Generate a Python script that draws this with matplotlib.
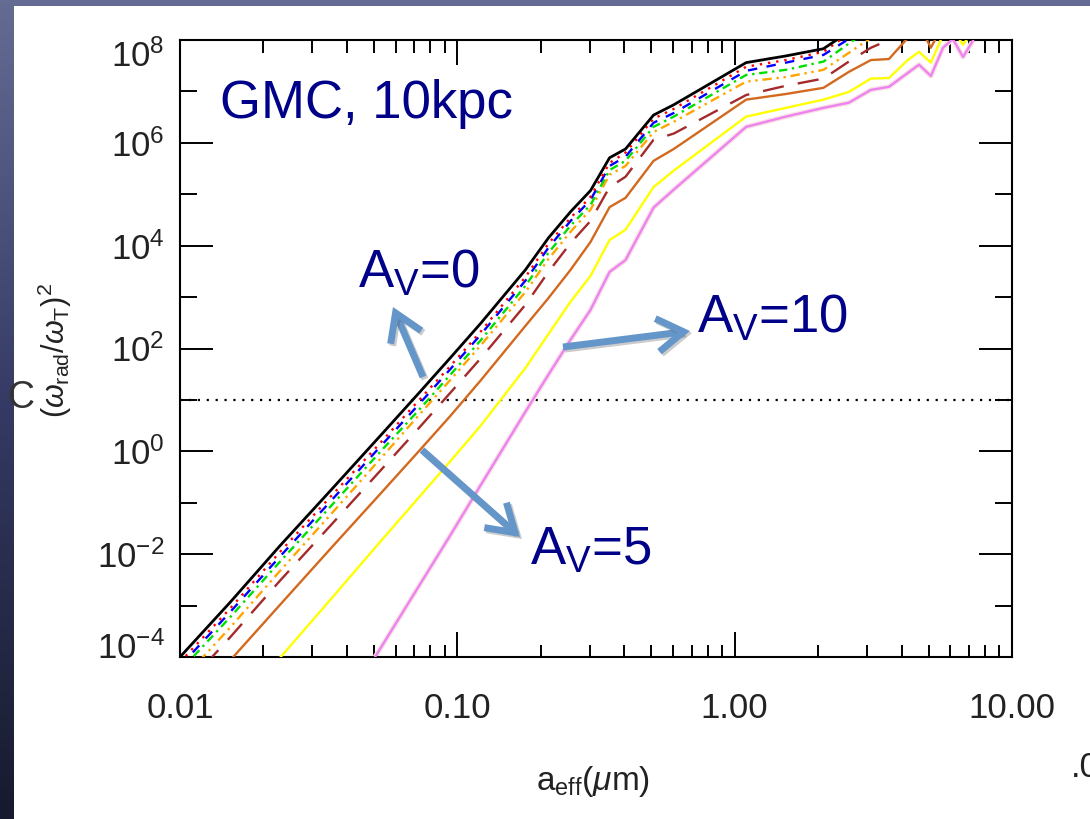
import numpy as np
import matplotlib
matplotlib.use('Agg')
import matplotlib.pyplot as plt
from matplotlib.ticker import FixedLocator, FixedFormatter, NullFormatter, LogLocator
from matplotlib.colors import LinearSegmentedColormap
from matplotlib.patches import Rectangle, FancyArrowPatch
import matplotlib.transforms as mtransforms
import matplotlib.patheffects as pe

plt.rcParams['font.family'] = ['Liberation Sans', 'DejaVu Sans']
plt.rcParams['mathtext.fontset'] = 'custom'
plt.rcParams['mathtext.rm'] = 'Liberation Sans'
plt.rcParams['mathtext.it'] = 'Liberation Sans:italic'
plt.rcParams['mathtext.bf'] = 'Liberation Sans:bold'

nan = np.nan

# ---------------- data ----------------
a_eff = [0.0100, 0.0152, 0.0229, 0.0348, 0.0527, 0.0723, 0.0944, 0.121, 0.176, 0.213,
         0.256, 0.302, 0.354, 0.404, 0.510, 0.603, 1.10, 1.53, 2.09, 2.58,
         3.10, 3.60, 4.21, 4.62, 5.10, 5.64, 6.12, 6.66, 7.29, 8.75]

# log10 (omega_rad / omega_T)^2 for each curve
log_black = [-4.00, -2.93, -1.84, -0.77, 0.30, 1.12, 1.82, 2.48, 3.53, 4.15,
             4.66, 5.07, 5.71, 5.88, 6.54, 6.74, 7.56, 7.69, 7.83, 8.16,
             nan, nan, nan, nan, nan, nan, nan, nan, nan, nan]
log_red = [-4.10, -3.05, -1.96, -0.89, 0.16, 0.98, 1.66, 2.32, 3.39, 4.04,
           4.54, 4.95, 5.61, 5.81, 6.47, 6.66, 7.48, 7.61, 7.77, 8.12,
           nan, nan, nan, nan, nan, nan, nan, nan, nan, nan]
log_blue = [-4.18, -3.12, -2.05, -0.98, 0.09, 0.90, 1.60, 2.26, 3.32, 3.96,
            4.48, 4.89, 5.55, 5.73, 6.39, 6.58, 7.40, 7.56, 7.71, 8.02,
            8.49, nan, nan, nan, nan, nan, nan, nan, nan, nan]
log_green = [-4.27, -3.22, -2.15, -1.08, -0.01, 0.79, 1.49, 2.15, 3.22, 3.86,
             4.39, 4.79, 5.47, 5.65, 6.31, 6.51, 7.32, 7.42, 7.58, 7.93,
             8.24, nan, nan, nan, nan, nan, nan, nan, nan, nan]
log_orange = [-4.49, -3.42, -2.33, -1.24, -0.15, 0.69, 1.39, 2.05, 3.10, 3.74,
              4.27, 4.70, 5.38, 5.55, 6.21, 6.41, 7.19, 7.28, 7.42, 7.75,
              8.04, 8.30, nan, nan, nan, nan, nan, nan, nan, nan]
log_brown = [-4.68, -3.61, -2.52, -1.45, -0.38, 0.44, 1.14, 1.80, 2.85, 3.49,
             4.05, 4.48, 5.14, 5.34, 6.06, 6.18, 6.93, 7.11, 7.25, 7.58,
             7.85, 8.00, 8.30, nan, nan, nan, nan, nan, nan, nan]
log_choc = [-5.15, -4.06, -2.99, -1.90, -0.83, -0.01, 0.69, 1.37, 2.44, 2.98,
            3.53, 4.07, 4.75, 4.93, 5.65, 5.88, 6.84, 6.95, 7.07, 7.38,
            7.61, 7.63, 8.04, 8.30, 7.85, 8.30, nan, nan, nan, nan]
log_yellow = [nan, nan, -4.02, -2.89, -1.76, -0.91, -0.19, 0.49, 1.62, 2.28,
              2.91, 3.41, 4.11, 4.31, 5.14, 5.46, 6.51, 6.68, 6.84, 6.99,
              7.25, 7.26, 7.61, 7.77, 7.56, 8.10, 8.20, 7.91, 8.20, nan]
log_violet = [nan, nan, nan, -5.42, -3.84, -2.64, -1.63, -0.67, 0.77, 1.49,
              2.17, 2.75, 3.49, 3.72, 4.74, 5.09, 6.31, 6.51, 6.68, 6.78,
              7.03, 7.09, 7.36, 7.52, 7.30, 7.85, 8.02, 7.67, 8.02, 8.10]

threshold = 10.0

x_ticks = [0.01, 0.1, 1.0, 10.0]
x_ticklabels = ['0.01', '0.10', '1.00', '10.00']
y_major = [1e-4, 1e-2, 1e0, 1e2, 1e4, 1e6, 1e8]
y_ticklabels = [r'$10^{-4}$', r'$10^{-2}$', r'$10^{0}$', r'$10^{2}$',
                r'$10^{4}$', r'$10^{6}$', r'$10^{8}$']
y_minor = [1e-3, 1e-1, 1e1, 1e3, 1e5, 1e7]

# ---------------- figure ----------------
W, H = 1090, 819
fig = plt.figure(figsize=(W / 100, H / 100), dpi=100)

def fx(x):
    return x / W

def fy(y):
    return 1 - y / H

# background gradient frame
bg = fig.add_axes([0, 0, 1, 1], zorder=-10)
grad = np.linspace(0, 1, 256).reshape(-1, 1)
cmap = LinearSegmentedColormap.from_list('bg', ['#646c94', '#343a63', '#171a2e'])
bg.imshow(grad, aspect='auto', cmap=cmap, extent=[0, 1, 0, 1], origin='upper')
bg.add_patch(Rectangle((14 / W, 0), 1 - 14 / W, 1 - 6 / H, facecolor='white',
                       edgecolor='none', transform=bg.transAxes))
bg.set_xlim(0, 1); bg.set_ylim(0, 1)
bg.axis('off')

ax = fig.add_axes([fx(180), fy(657), (1012 - 180) / W, (657 - 40) / H])
ax.set_xscale('log')
ax.set_yscale('log')
ax.set_xlim(0.01, 10)
ax.set_ylim(1e-4, 1e8)

x = np.array(a_eff)
lw = 1.7
ax.plot(x, 10 ** np.array(log_violet), color='#f8e2e6', lw=3.6, zorder=2)
ax.plot(x, 10 ** np.array(log_violet), color='#ee82ee', lw=lw, zorder=3)
ax.plot(x, 10 ** np.array(log_yellow), color='#ffff00', lw=lw, zorder=3)
ax.plot(x, 10 ** np.array(log_choc), color='#d2691e', lw=lw, zorder=3)
ax.plot(x, 10 ** np.array(log_brown), color='#a52a2a', lw=lw, ls=(0, (9, 6)), zorder=3)
ax.plot(x, 10 ** np.array(log_orange), color='#ffa500', lw=lw, ls=(0, (4, 2, 1, 2, 1, 2)), zorder=3)
ax.plot(x, 10 ** np.array(log_green), color='#00e000', lw=lw, ls=(0, (3.5, 2, 1, 2)), zorder=3)
ax.plot(x, 10 ** np.array(log_blue), color='#0000ff', lw=lw, ls=(0, (4, 4)), zorder=3)
ax.plot(x, 10 ** np.array(log_red), color='#ff0000', lw=lw, ls=(0, (1, 2.5)), zorder=3)
ax.plot(x, 10 ** np.array(log_black), color='black', lw=2.0, zorder=4)

ax.axhline(threshold, color='black', lw=1.6, ls=(0, (1, 3)), zorder=1)

for s in ax.spines.values():
    s.set_linewidth(1.5)

ax.xaxis.set_major_locator(FixedLocator(x_ticks))
ax.xaxis.set_major_formatter(FixedFormatter(x_ticklabels))
ax.xaxis.set_minor_locator(LogLocator(base=10, subs=range(2, 10)))
ax.xaxis.set_minor_formatter(NullFormatter())
ax.yaxis.set_major_locator(FixedLocator(y_major))
ax.yaxis.set_major_formatter(FixedFormatter(y_ticklabels))
ax.yaxis.set_minor_locator(FixedLocator(y_minor))
ax.yaxis.set_minor_formatter(NullFormatter())

ax.tick_params(which='both', direction='in', top=True, right=True, width=1.4,
               color='black', labelcolor='#222222')
ax.tick_params(axis='x', which='major', length=18, pad=25, labelsize=25)
ax.tick_params(axis='x', which='minor', length=9)
ax.tick_params(axis='y', which='major', length=24, pad=11, labelsize=25)
ax.tick_params(axis='y', which='minor', length=12)

# nudge outermost y labels inward
yt = ax.yaxis.get_major_ticks(len(y_major))
yt[0].label1.set_transform(yt[0].label1.get_transform() +
                           mtransforms.ScaledTranslation(0, 12 / 100, fig.dpi_scale_trans))
yt[-1].label1.set_transform(yt[-1].label1.get_transform() +
                            mtransforms.ScaledTranslation(0, -13 / 100, fig.dpi_scale_trans))

# axis labels
fig.text(fx(55), fy(350), r'$(\omega_{\rm rad}/\omega_{\rm T})^2$', rotation=90,
         ha='center', va='center', fontsize=22, color='#222222')
fig.text(fx(593), fy(790), r'a$_{\rm eff}$($\mu$m)', ha='center', va='baseline',
         fontsize=24, color='#222222')
fig.text(fx(21), fy(398), 'C', ha='center', va='center', fontsize=27, color='#333333')
fig.text(fx(1071), fy(777), '.0', ha='left', va='baseline', fontsize=25, color='#222222')

# annotations
navy = '#000088'
fig.text(fx(220), fy(118), 'GMC, 10kpc', fontsize=38, color=navy, ha='left', va='baseline')
fig.text(fx(358), fy(288), r'A$_{\rm V}$=0', fontsize=38, color=navy, ha='left', va='baseline')
fig.text(fx(697), fy(333), r'A$_{\rm V}$=10', fontsize=38, color=navy, ha='left', va='baseline')
fig.text(fx(530), fy(565), r'A$_{\rm V}$=5', fontsize=38, color=navy, ha='left', va='baseline')

arrow_color = '#6596c9'
arrows = [((423, 377), (393, 307)), ((563, 347), (690, 331)), ((422, 450), (520, 537))]
for (x0, y0), (x1, y1) in arrows:
    arr = FancyArrowPatch((fx(x0), fy(y0)), (fx(x1), fy(y1)), transform=fig.transFigure,
                          arrowstyle='->,head_length=0.95,head_width=0.6', mutation_scale=20,
                          lw=5, color=arrow_color, capstyle='butt', joinstyle='miter',
                          shrinkA=0, shrinkB=0, zorder=10,
                          path_effects=[pe.SimpleLineShadow(offset=(1.5, -1.5), shadow_color='#555555', alpha=0.3),
                                        pe.Normal()])
    fig.add_artist(arr)

fig.savefig('out.png', dpi=100)
